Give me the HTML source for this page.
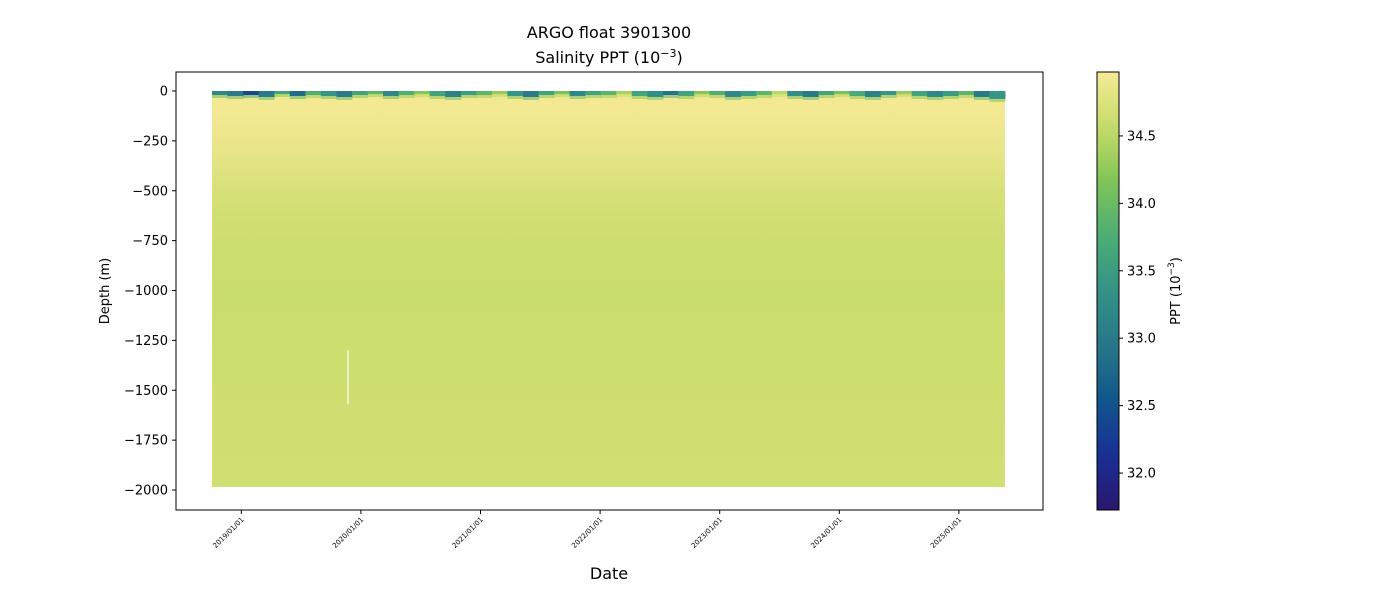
<!DOCTYPE html>
<html><head><meta charset="utf-8"><style>
body{margin:0;background:#fff;font-family:"Liberation Sans","DejaVu Sans",sans-serif}
svg text{font-family:"DejaVu Sans","Liberation Sans",sans-serif}
</style></head><body>
<svg id="chart" width="1400" height="600" viewBox="0 0 1400 600" xmlns="http://www.w3.org/2000/svg">
<defs>
<linearGradient id="cbar" x1="0" y1="1" x2="0" y2="0"></linearGradient>
<linearGradient id="body" x1="0" y1="0" x2="0" y2="1" gradientUnits="userSpaceOnUse"></linearGradient>
<clipPath id="pclip"><rect x="176" y="72" width="867" height="438"/></clipPath>
</defs>
<text x="609" y="38" text-anchor="middle" font-size="16">ARGO float 3901300</text>
<text x="609" y="63" text-anchor="middle" font-size="16">Salinity PPT (10<tspan dy="-6" font-size="11">−3</tspan><tspan dy="6">)</tspan></text>
<g id="plot" clip-path="url(#pclip)"></g>
<rect x="176" y="72" width="867" height="438" fill="none" stroke="#000" stroke-width="1"/>
<g id="yaxis"></g>
<g id="xaxis"></g>
<text x="109" y="291" text-anchor="middle" font-size="13" transform="rotate(-90 109 291)">Depth (m)</text>
<text x="609" y="579" text-anchor="middle" font-size="16">Date</text>
<rect x="1097" y="72" width="22" height="438" fill="url(#cbar)" stroke="#000" stroke-width="1"/>
<g id="cbaxis"></g>
<text x="1180" y="291" text-anchor="middle" font-size="13" transform="rotate(-90 1180 291)">PPT (10<tspan dy="-6" font-size="9">−3</tspan><tspan dy="6">)</tspan></text>
</svg>
<script>
const NS="http://www.w3.org/2000/svg";
const depthTicks=[0,-250,-500,-750,-1000,-1250,-1500,-1750,-2000];
const dateTicks=["2019/01/01","2020/01/01","2021/01/01","2022/01/01","2023/01/01","2024/01/01","2025/01/01"];
const dateTickYears=[2019,2020,2021,2022,2023,2024,2025];
const cbTicks=[32.0,32.5,33.0,33.5,34.0,34.5];
const profileDepths=[0,10,25,50,100,200,300,400,500,700,1000,1500,2000];
const profileSal=[34.2,34.7,34.9,34.95,34.95,34.9,34.85,34.78,34.72,34.64,34.6,34.63,34.66];
const startYear=2018.755, endYear=2025.385;
const surfaceSal=[33.2,33.0,32.4,33.0,33.6,32.8,33.8,33.4,33.0,33.6,33.9,33.2,33.8,34.2,33.6,33.1,33.5,33.9,34.3,33.4,33.0,33.6,34.1,33.2,33.6,33.9,34.4,33.6,33.3,32.9,33.6,34.2,33.8,33.2,33.5,33.9,34.5,33.3,33.0,33.6,34.1,33.7,33.1,33.4,34.3,33.6,33.2,33.5,33.9,33.0,33.4];
const mixedDepth=[20,25,20,30,15,25,20,25,30,20,15,25,20,15,25,30,20,20,15,25,30,20,15,25,20,20,15,25,30,20,25,15,20,30,25,20,15,25,30,20,15,25,30,20,15,25,30,25,20,30,40];
const vmin=31.726,vmax=34.974;
const cmapStops=[[0,[41,24,107]],[0.12,[27,44,150]],[0.25,[16,86,140]],[0.375,[40,118,136]],[0.5,[51,146,134]],[0.625,[76,173,117]],[0.75,[128,196,88]],[0.875,[197,220,104]],[1,[247,234,150]]];
function cmap(v){let t=Math.max(0,Math.min(1,(v-vmin)/(vmax-vmin)));for(let i=1;i<cmapStops.length;i++){if(t<=cmapStops[i][0]){const a=cmapStops[i-1],b=cmapStops[i];const f=(t-a[0])/(b[0]-a[0]);const c=a[1].map((x,k)=>Math.round(x+(b[1][k]-x)*f));return `rgb(${c})`;}}return "rgb(247,234,150)";}
function Y(d){return 91+(-d)*399/2000;}
function X(yr){return 241.3+(yr-2019)*119.6;}
function cbY(v){return 510-(v-vmin)/(vmax-vmin)*438;}
function el(t,a,p){const e=document.createElementNS(NS,t);for(const k in a)e.setAttribute(k,a[k]);p.appendChild(e);return e;}
const cg=document.getElementById('cbar');
for(let i=0;i<=20;i++){const t=i/20;el('stop',{offset:t,'stop-color':cmap(vmin+t*(vmax-vmin))},cg);}
const bg=document.getElementById('body');bg.setAttribute('y1',Y(0));bg.setAttribute('y2',Y(-2000));
profileDepths.forEach((d,i)=>el('stop',{offset:d/2000,'stop-color':cmap(profileSal[i])},bg));
const plot=document.getElementById('plot');
const x0=X(startYear),x1=X(endYear);
const body=el('rect',{x:x0,y:Y(0),width:x1-x0,height:Y(-1985)-Y(0),fill:'url(#body)'},plot);


const n=surfaceSal.length,w=(x1-x0)/n;
surfaceSal.forEach((s,i)=>{
 const r=el('rect',{x:x0+i*w,y:Y(0),width:w+0.5,height:Y(-mixedDepth[i])-Y(0),fill:cmap(s)},plot);
 
 
 const r2=el('rect',{x:x0+i*w,y:Y(-mixedDepth[i]),width:w+0.5,height:Y(-mixedDepth[i]-15)-Y(-mixedDepth[i]),fill:cmap((s+34.7)/2),opacity:0.5},plot);
 
 
});
const gap=el('line',{x1:348,x2:348,y1:Y(-1300),y2:Y(-1570),stroke:'#fff','stroke-width':1.2},plot);


const ya=document.getElementById('yaxis');
depthTicks.forEach(d=>{const y=Y(d);el('line',{x1:172,x2:176,y1:y,y2:y,stroke:'#000'},ya);
 const t=el('text',{x:168,y:y+4.5,'text-anchor':'end','font-size':13},ya);t.textContent=d===0?'0':'−'+(-d);
 
 });
const xa=document.getElementById('xaxis');
dateTickYears.forEach((yr,i)=>{const x=X(yr);el('line',{x1:x,x2:x,y1:510,y2:514,stroke:'#000'},xa);
 const t=el('text',{x:x+3,y:520,'text-anchor':'end','font-size':7,transform:`rotate(-45 ${x+3} 520)`},xa);t.textContent=dateTicks[i];
 
 });
const ca=document.getElementById('cbaxis');
cbTicks.forEach(v=>{const y=cbY(v);el('line',{x1:1119,x2:1123,y1:y,y2:y,stroke:'#000'},ca);
 const t=el('text',{x:1127,y:y+4.5,'font-size':13},ca);t.textContent=v.toFixed(1);
 
 });
</script>
</body></html>
